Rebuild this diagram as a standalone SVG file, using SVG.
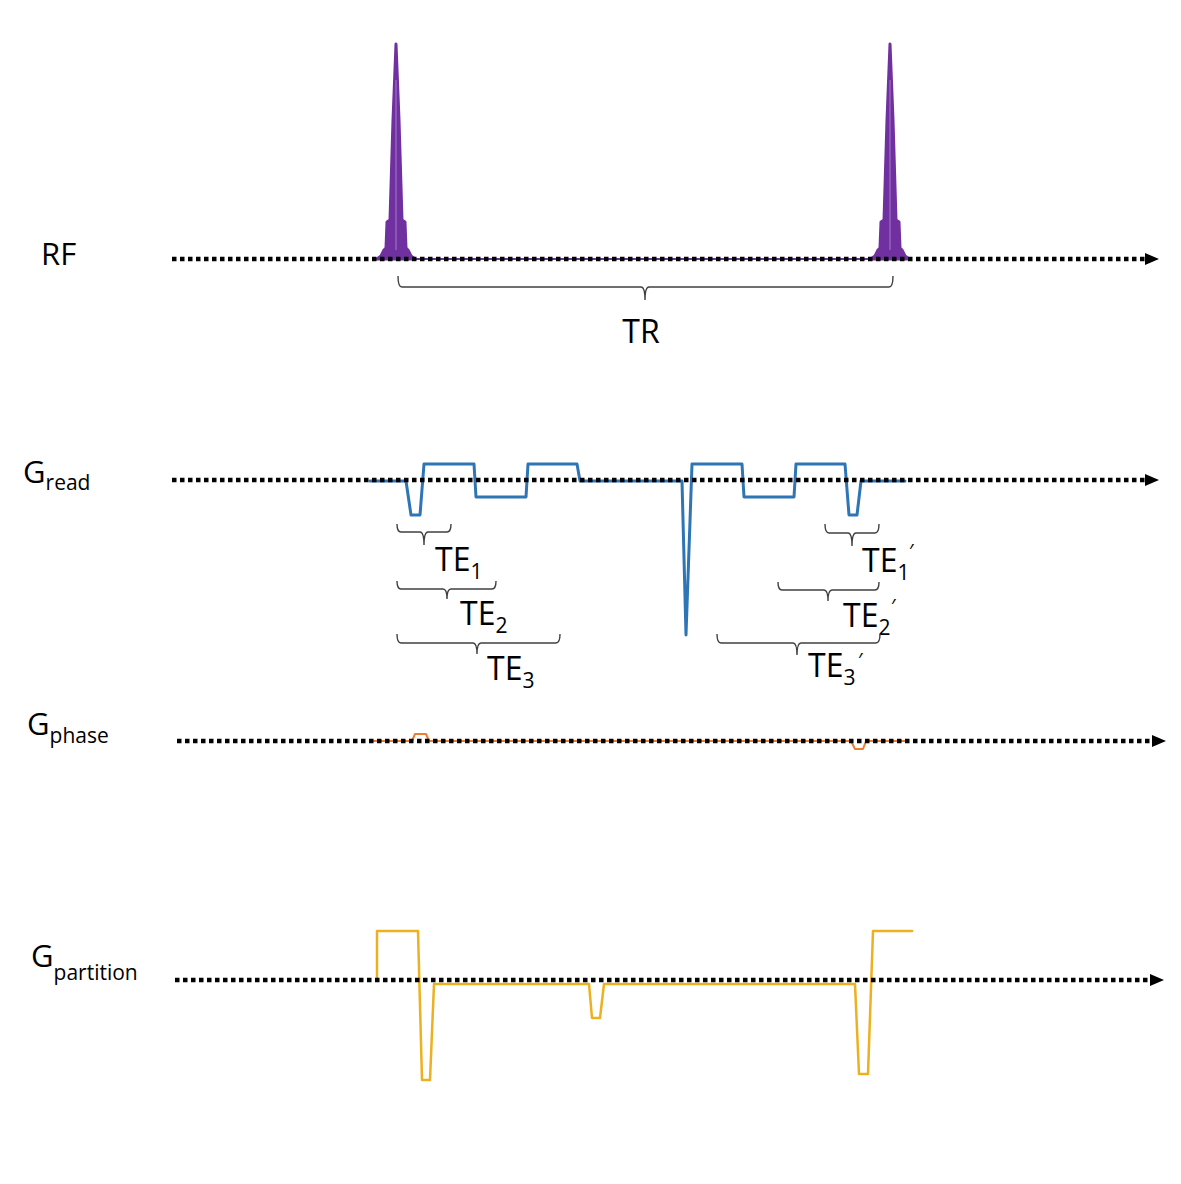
<svg xmlns="http://www.w3.org/2000/svg" width="1181" height="1184" viewBox="0 0 1181 1184">
<style>
text{font-family:"Open Sans","Noto Sans","Liberation Sans",sans-serif;fill:#000}
.lbl{font-size:31px}
.sub{font-size:21px}
.te{font-size:32px}
.tes{font-size:21px}
.prime{font-size:20px}
.axis{stroke:#000;stroke-width:4.5;stroke-dasharray:4.5 3.5;fill:none}
.brace{stroke:#404040;stroke-width:1.4;fill:none}
.wave{fill:none;stroke-linejoin:round;stroke-linecap:round}
.rf{stroke:#7030A0;stroke-width:3;fill:#7030A0;stroke-linejoin:round}
</style>
<defs>
<marker id="arr" markerWidth="14" markerHeight="12" refX="0" refY="6" orient="auto" markerUnits="userSpaceOnUse">
<path d="M0,0 L14,6 L0,12 z" fill="#000"/>
</marker>
</defs>
<rect width="1181" height="1184" fill="#fff"/>

<g id="rf-wave">
<line x1="378" y1="259" x2="905" y2="259" stroke="#7030A0" stroke-width="2"/>
<path class="rf" d="M377,259 L381,256 L384,250 L386,248 L387,222 L390,220 L393,120 L396,44 L399,120 L402,220 L405,222 L406,248 L408,250 L411,256 L415,259 Z"/>
<path class="rf" d="M871,259 L875,256 L878,250 L880,248 L881,222 L884,220 L887,120 L890,44 L893,120 L896,220 L899,222 L900,248 L902,250 L905,256 L909,259 Z"/>
<line x1="396" y1="80" x2="396" y2="250" stroke="#b58fd6" stroke-width="0.8"/>
<line x1="890" y1="80" x2="890" y2="250" stroke="#b58fd6" stroke-width="0.8"/>
</g>

<g id="gread-wave">
<path class="wave" stroke="#2E75B6" stroke-width="3" d="M370,481 L406,481 L411,515 L420,515 L424,464 L474,464 L476,497 L526,497 L528,464 L577,464 L580,481 L682,481 L686,635 L692,464 L742,464 L744,497 L794,497 L796,464 L845,464 L849,515 L857,515 L861,481 L905,481"/>
</g>

<g id="gphase-wave">
<path class="wave" stroke="#ED7D31" stroke-width="2" d="M370,741 L412,741 L415,734 L426,734 L429,741 L851,741 L855,749 L863,749 L866,741 L905,741"/>
</g>

<g id="gpartition-wave">
<path class="wave" stroke="#EDB120" stroke-width="2.5" d="M377,978 L377,931 L418,931 L422,1080 L430,1080 L434,984 L589,984 L592,1018 L600,1018 L604,984 L855,984 L859,1074 L868,1074 L873,931 L912,931"/>
</g>

<g id="connectors">
<line class="axis" x1="172" y1="259" x2="1145" y2="259" marker-end="url(#arr)"/>
<line class="axis" x1="172" y1="480" x2="1145" y2="480" marker-end="url(#arr)"/>
<line class="axis" x1="177" y1="741" x2="1152" y2="741" marker-end="url(#arr)"/>
<line class="axis" x1="175" y1="980" x2="1150" y2="980" marker-end="url(#arr)"/>
</g>

<g id="label-rf"><text class="lbl" x="41" y="265">RF</text></g>
<g id="label-gread"><text class="lbl" x="23" y="483">G<tspan class="sub" dy="7">read</tspan></text></g>
<g id="label-gphase"><text class="lbl" x="27" y="735">G<tspan class="sub" dy="8">phase</tspan></text></g>
<g id="label-gpartition"><text class="lbl" x="31" y="967">G<tspan class="sub" dy="13">partition</tspan></text></g>

<g id="tr">
<path class="brace" stroke="#202020" d="M398,276 Q398,287 402,287 L641,287 Q645,287 645,300 Q645,287 649,287 L889,287 Q893,287 893,276"/>
<text class="te" x="641" y="343" text-anchor="middle">TR</text>
</g>

<g id="te1">
<path class="brace" d="M397,524 Q397,532 401,532 L420,532 Q424,532 424,545 Q424,532 428,532 L447,532 Q451,532 451,524"/>
<text class="te" x="435" y="571">TE<tspan class="tes" dy="8">1</tspan></text>
</g>
<g id="te2">
<path class="brace" d="M397,581 Q397,589 401,589 L443,589 Q447,589 447,599 Q447,589 451,589 L492,589 Q496,589 496,581"/>
<text class="te" x="460" y="625">TE<tspan class="tes" dy="8">2</tspan></text>
</g>
<g id="te3">
<path class="brace" d="M397,634 Q397,643 401,643 L473,643 Q477,643 477,654 Q477,643 481,643 L556,643 Q560,643 560,634"/>
<text class="te" x="487" y="680">TE<tspan class="tes" dy="8">3</tspan></text>
</g>

<g id="te1p">
<path class="brace" d="M825,524 Q825,533 829,533 L848,533 Q852,533 852,546 Q852,533 856,533 L875,533 Q879,533 879,524"/>
<text class="te" x="862" y="572">TE<tspan class="tes" dy="8">1</tspan></text>
<text class="prime" x="909" y="558">′</text>
</g>
<g id="te2p">
<path class="brace" d="M778,582 Q778,590 782,590 L824,590 Q828,590 828,601 Q828,590 832,590 L875,590 Q879,590 879,582"/>
<text class="te" x="843" y="627">TE<tspan class="tes" dy="8">2</tspan></text>
<text class="prime" x="891" y="613">′</text>
</g>
<g id="te3p">
<path class="brace" d="M717,634 Q717,643 721,643 L793,643 Q797,643 797,655 Q797,643 801,643 L876,643 Q880,643 880,634"/>
<text class="te" x="808" y="677">TE<tspan class="tes" dy="8">3</tspan></text>
<text class="prime" x="858" y="667">′</text>
</g>
</svg>
